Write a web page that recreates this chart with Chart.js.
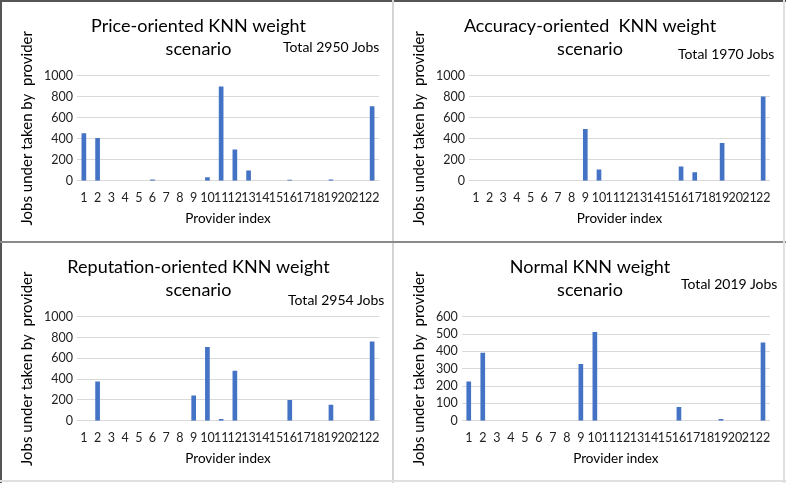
<!DOCTYPE html>
<html>
<head>
<meta charset="utf-8">
<script src="https://cdn.jsdelivr.net/npm/chart.js@4.4.1/dist/chart.umd.min.js"></script>
<style>
  html, body { margin: 0; padding: 0; background: #fff; }
  #wrap { position: relative; width: 786px; height: 483px; background: #fff; overflow: hidden; }
  .panel { position: absolute; width: 390px; height: 238px; }
  .panel canvas { position: absolute; left: 0; top: 0; }
  .total { position: absolute; font-family: Lato, sans-serif; font-size: 14px; color: #000; white-space: nowrap; }
  .line { position: absolute; }
</style>
</head>
<body>
<div id="wrap">
  <div class="line" style="left:0;top:0;width:786px;height:2px;background:#555"></div>
  <div class="line" style="left:0;top:0;width:2px;height:483px;background:#555"></div>
  <div class="line" style="left:392px;top:0;width:2px;height:483px;background:#d4d4d4"></div>
  <div class="line" style="left:0;top:241px;width:786px;height:2px;background:#8a8a8a"></div>
  <div class="line" style="left:783px;top:0;width:2px;height:483px;background:#e0e0e0"></div>
  <div class="line" style="left:0;top:480px;width:786px;height:2px;background:#e0e0e0"></div>

  <div class="panel" style="left:2px;top:2px"><canvas id="c1" width="390" height="238"></canvas>
    <div class="total" style="left:281px;top:36px">Total 2950 Jobs</div></div>
  <div class="panel" style="left:394px;top:2px"><canvas id="c2" width="389" height="238"></canvas>
    <div class="total" style="left:284px;top:43px">Total 1970 Jobs</div></div>
  <div class="panel" style="left:2px;top:243px"><canvas id="c3" width="390" height="237"></canvas>
    <div class="total" style="left:286px;top:48px">Total 2954 Jobs</div></div>
  <div class="panel" style="left:394px;top:243px"><canvas id="c4" width="389" height="237"></canvas>
    <div class="total" style="left:287px;top:32px">Total 2019 Jobs</div></div>
</div>
<script>
// datos
const providers = ["1","2","3","4","5","6","7","8","9","10","11","12","13","14","15","16","17","18","19","20","21","22"];
const priceJobs = [450, 405, 0, 0, 0, 10, 0, 0, 0, 30, 895, 295, 96, 0, 0, 8, 0, 0, 10, 0, 0, 707];
const accuracyJobs = [0, 0, 0, 0, 0, 0, 0, 0, 490, 105, 0, 0, 0, 0, 0, 132, 78, 0, 356, 0, 0, 800];
const reputationJobs = [0, 375, 0, 0, 0, 0, 0, 0, 240, 707, 15, 478, 0, 0, 0, 197, 0, 0, 150, 0, 0, 758];
const normalJobs = [224, 390, 0, 0, 0, 0, 0, 0, 325, 510, 0, 0, 0, 0, 0, 78, 0, 0, 8, 0, 0, 450];
const yMaxBig = 1000, yStepBig = 200;
const yMaxNormal = 600, yStepNormal = 100;

const FONT = "Lato, 'Open Sans', sans-serif";

function crearGrafico(id, titulo, valores, yMax, yStep) {
  const ctx = document.getElementById(id).getContext("2d");
  return new Chart(ctx, {
    type: "bar",
    data: {
      labels: providers,
      datasets: [{
        data: valores,
        // barras con 0 no se pintan
        backgroundColor: (c) => (c.raw ? "#4472C4" : "rgba(0,0,0,0)"),
        barThickness: 4,
      }],
    },
    options: {
      responsive: false,
      animation: false,
      layout: { padding: { left: 16, right: 13, top: 0, bottom: 13 } },
      plugins: {
        legend: { display: false },
        tooltip: { enabled: false },
        title: {
          display: true,
          text: titulo,
          color: "#000",
          font: { family: FONT, size: 18, weight: "normal", lineHeight: 1.27 },
          padding: { top: 13, bottom: 15 },
        },
      },
      scales: {
        x: {
          grid: { display: false },
          border: { display: false },
          ticks: {
            color: "#222",
            font: { family: FONT, size: 12.5 },
            autoSkip: false,
            maxRotation: 0,
            minRotation: 0,
            padding: 2,
          },
          title: {
            display: true,
            text: "Provider index",
            color: "#000",
            font: { family: FONT, size: 13.5 },
            padding: { top: 3, bottom: 0 },
          },
        },
        y: {
          min: 0,
          max: yMax,
          grid: { color: "#d9d9d9", drawTicks: false },
          border: { display: false },
          ticks: {
            stepSize: yStep,
            autoSkip: false,
            color: "#222",
            font: { family: FONT, size: 12.5 },
            padding: 4,
            callback: (v) => String(v),
          },
          title: {
            display: true,
            text: "Jobs under taken by  provider",
            color: "#000",
            font: { family: FONT, size: 15 },
            padding: { top: 0, bottom: 4 },
          },
        },
      },
    },
  });
}

crearGrafico("c1", ["Price-oriented KNN weight", "scenario"], priceJobs, yMaxBig, yStepBig);
crearGrafico("c2", ["Accuracy-oriented  KNN weight", "scenario"], accuracyJobs, yMaxBig, yStepBig);
crearGrafico("c3", ["Reputation-oriented KNN weight", "scenario"], reputationJobs, yMaxBig, yStepBig);
crearGrafico("c4", ["Normal KNN weight", "scenario"], normalJobs, yMaxNormal, yStepNormal);
</script>
</body>
</html>
